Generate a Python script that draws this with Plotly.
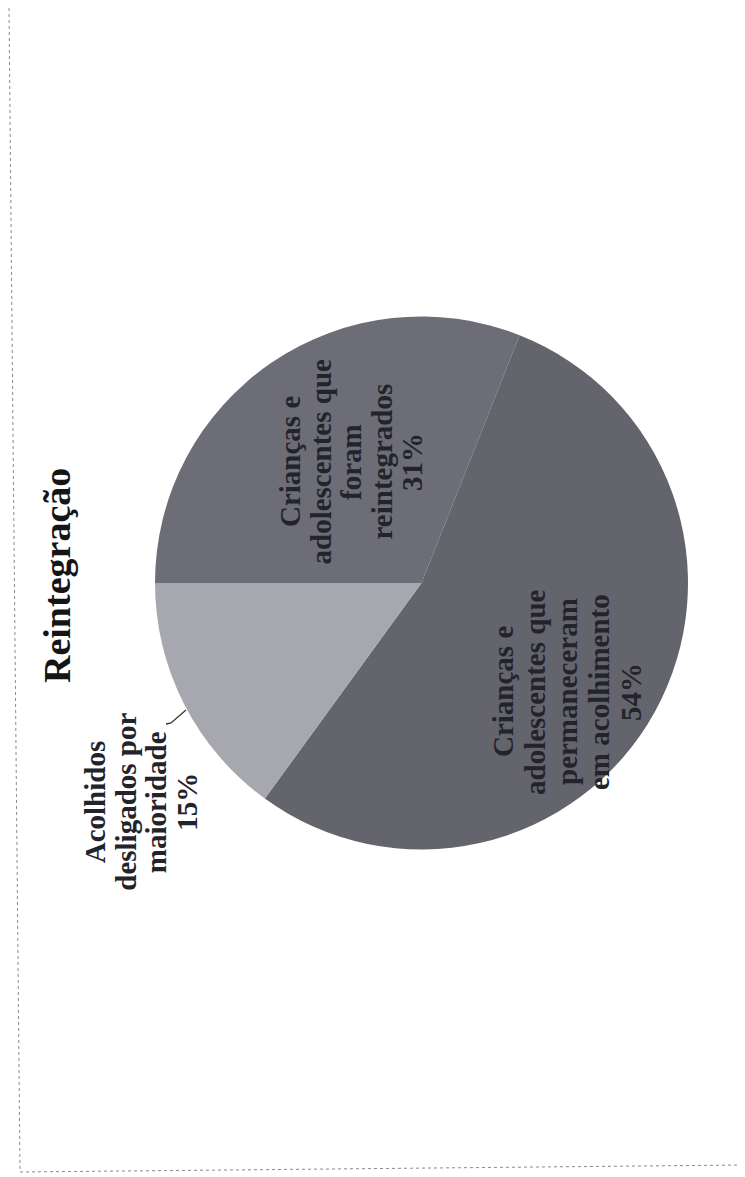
import plotly.graph_objects as go

# ---- data ----
title_text = "Reintegração"
labels = [
    "Crianças e adolescentes que foram reintegrados",
    "Crianças e adolescentes que permaneceram em acolhimento",
    "Acolhidos desligados por maioridade",
]
label_lines = [
    ["Crianças e", "adolescentes que", "foram", "reintegrados"],
    ["Crianças e", "adolescentes que", "permaneceram", "em acolhimento"],
    ["Acolhidos", "desligados por", "maioridade"],
]
values = [31, 54, 15]
colors = ["#6d6d77", "#64646d", "#a7a7af"]

# page body has an 8px margin, so the figure is drawn 8px smaller
OFF = 8
W, H = 745 - OFF, 1177 - OFF
CX, CY, R = 421.5, 583, 266.5  # pie centre / radius in screen pixels


def px(x):
    return (x - OFF) / W


def py(y):
    return 1 - (y - OFF) / H


fig = go.Figure()
fig.add_trace(go.Pie(
    labels=labels,
    values=values,
    sort=False,
    direction="clockwise",
    rotation=270,
    textinfo="none",
    hoverinfo="label+percent",
    marker=dict(colors=colors, line=dict(width=0)),
    domain=dict(x=[px(CX - R), px(CX + R)], y=[py(CY + R), py(CY - R)]),
    showlegend=False,
))

# label block centres (screen pixels) and line spacing
block_centres = [(351, 462), (567, 692), (141, 802)]
spacings = [30.5, 32, 30.5]
font_family = "Liberation Serif"
text_col = "#23232c"

annotations = []
total = sum(values)
for lines, v, (bx, by), sp in zip(label_lines, values, block_centres, spacings):
    all_lines = lines + [f"{round(100 * v / total)}%"]
    n = len(all_lines)
    for i, t in enumerate(all_lines):
        x = bx + (i - (n - 1) / 2) * sp
        annotations.append(dict(
            x=px(x), y=py(by), xref="paper", yref="paper",
            text=f"<b>{t}</b>", showarrow=False, textangle=-90,
            xanchor="center", yanchor="middle",
            font=dict(family=font_family, size=29, color=text_col),
        ))

# title
annotations.append(dict(
    x=px(57), y=py(576), xref="paper", yref="paper",
    text=f"<b>{title_text}</b>", showarrow=False, textangle=-90,
    xanchor="center", yanchor="middle",
    font=dict(family=font_family, size=38, color="#151515"),
))

shapes = [
    # leader line for the small slice
    dict(type="path", xref="paper", yref="paper",
         path=f"M {px(166)} {py(724)} L {px(171)} {py(723)} L {px(186)} {py(710)}",
         line=dict(color="#333333", width=1.3)),
    # dotted frame (scanned page border)
    dict(type="line", xref="paper", yref="paper",
         x0=px(9), y0=py(OFF), x1=px(20), y1=py(1172),
         line=dict(color="#8a8a8a", width=1, dash="dot")),
    dict(type="line", xref="paper", yref="paper",
         x0=px(20), y0=py(1172), x1=px(745), y1=py(1165),
         line=dict(color="#8a8a8a", width=1, dash="dot")),
]

fig.update_layout(
    width=W, height=H,
    margin=dict(l=0, r=0, t=0, b=0),
    paper_bgcolor="white",
    plot_bgcolor="white",
    annotations=annotations,
    shapes=shapes,
)

fig.write_html("out.html")
